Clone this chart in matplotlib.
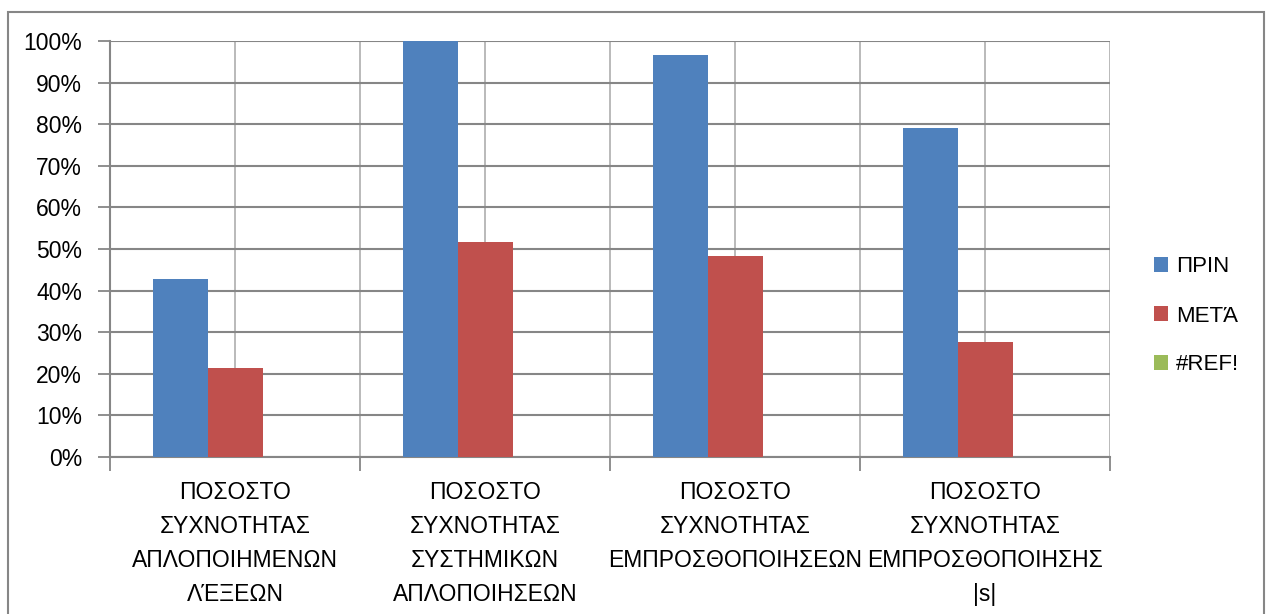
#!/usr/bin/env python3

import numpy as np
import matplotlib
matplotlib.use("Agg")
import matplotlib.pyplot as plt
from matplotlib.patches import Rectangle
from matplotlib.ticker import PercentFormatter

plt.rcParams["font.family"] = ["Liberation Sans", "DejaVu Sans"]

categories = [
    "ΠΟΣΟΣΤΟ\nΣΥΧΝΟΤΗΤΑΣ\nΑΠΛΟΠΟΙΗΜΕΝΩΝ\nΛΈΞΕΩΝ",
    "ΠΟΣΟΣΤΟ\nΣΥΧΝΟΤΗΤΑΣ\nΣΥΣΤΗΜΙΚΩΝ\nΑΠΛΟΠΟΙΗΣΕΩΝ",
    "ΠΟΣΟΣΤΟ\nΣΥΧΝΟΤΗΤΑΣ\nΕΜΠΡΟΣΘΟΠΟΙΗΣΕΩΝ",
    "ΠΟΣΟΣΤΟ\nΣΥΧΝΟΤΗΤΑΣ\nΕΜΠΡΟΣΘΟΠΟΙΗΣΗΣ\n|s|",
]
series_names = ["ΠΡΙΝ", "ΜΕΤΆ", "#REF!"]
prin = [0.428, 1.00, 0.966, 0.792]
meta = [0.214, 0.517, 0.483, 0.276]
ref = [0.0, 0.0, 0.0, 0.0]
colors = ["#4F81BD", "#C0504D", "#9BBB59"]

W, H = 1266, 614
fig = plt.figure(figsize=(W / 100, H / 100), dpi=100)
ax = fig.add_axes([110 / W, 1 - 457 / H, 1000 / W, 416 / H])

x = np.arange(len(categories))
bw = 0.22
for i, (vals, name) in enumerate(zip([prin, meta, ref], series_names)):
    ax.bar(x + (i - 1) * bw, vals, width=bw, color=colors[i], label=name, zorder=3)

ax.set_xlim(-0.5, len(categories) - 0.5)
ax.set_ylim(0, 1)
ax.set_yticks(np.linspace(0, 1, 11))
ax.yaxis.set_major_formatter(PercentFormatter(1.0, decimals=0))

ax.set_xticks(x)
ax.set_xticklabels(categories, fontsize=16.5, linespacing=1.61)
ax.set_xticks(np.arange(-0.5, len(categories), 1), minor=True)
ax.tick_params(axis="x", which="major", length=0, pad=17)
ax.tick_params(axis="x", which="minor", length=10, width=1.3, color="#868686")
ax.tick_params(axis="y", length=9, width=1.3, color="#868686", labelsize=16.5, pad=11)

ax.grid(axis="y", color="#868686", lw=1.5, zorder=0)
ax.grid(axis="x", which="both", color="#b4b4b4", lw=1.3, zorder=0)
for s in ["top", "right"]:
    ax.spines[s].set_visible(False)
for s in ["left", "bottom"]:
    ax.spines[s].set_color("#868686")
    ax.spines[s].set_linewidth(1.5)

ax.legend(loc="center left", bbox_to_anchor=(1154 / W, 1 - 316 / H),
          bbox_transform=fig.transFigure, frameon=False, fontsize=16,
          handlelength=0.65, handleheight=0.65, handletextpad=0.35,
          labelspacing=1.26, borderpad=0, borderaxespad=0)

fig.patches.append(Rectangle((8 / W, -0.1), (1264 - 8) / W, 1.1 - 12 / H,
                             transform=fig.transFigure, fill=False,
                             edgecolor="#868686", lw=1.5))

fig.savefig("out.png", dpi=100)
